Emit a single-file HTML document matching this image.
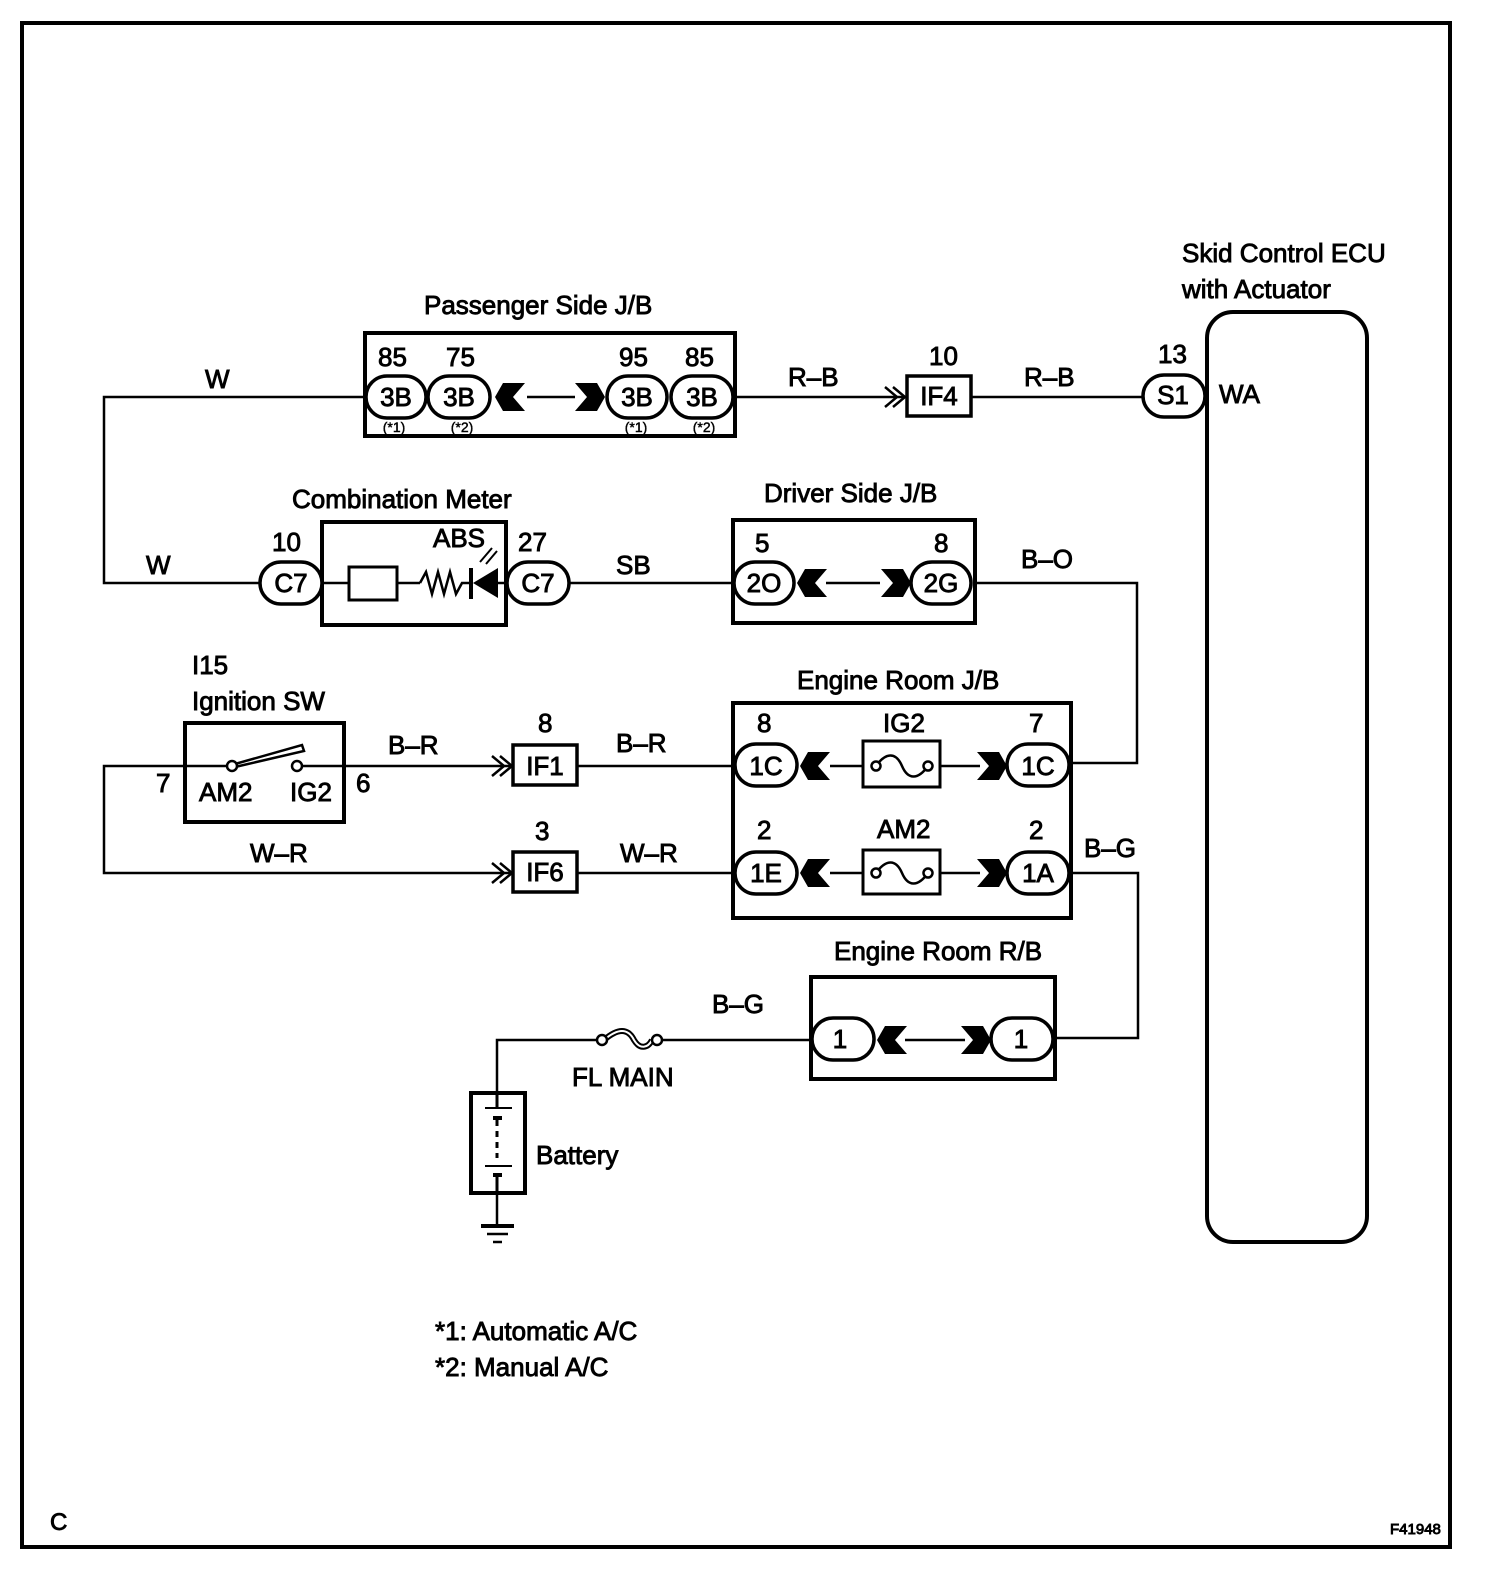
<!DOCTYPE html>
<html><head><meta charset="utf-8"><style>
html,body{margin:0;padding:0;background:#fff}
svg{display:block}
text{font-family:"Liberation Sans",Arial,sans-serif;font-size:26px;fill:#000;stroke:#000;stroke-width:0.9}
.s{font-size:14px;stroke-width:0.4}
</style></head><body>
<svg width="1504" height="1574" viewBox="0 0 1504 1574" xmlns="http://www.w3.org/2000/svg">
<defs>
<path id="fl" d="M0,-14 L22,-14 L10,0 L22,14 L0,14 L-8,0 Z"/>
<path id="fr" d="M0,-14 L-22,-14 L-10,0 L-22,14 L0,14 L8,0 Z"/>
<path id="mm" d="M-12,-10 L0,0 L-12,10 M-20,-10 L-8,0 L-20,10" fill="none" stroke="#000" stroke-width="2.5"/>
</defs>
<rect x="22" y="23" width="1428" height="1524" fill="none" stroke="#000" stroke-width="4"/>

<g fill="none" stroke="#000" stroke-width="2.5">
<polyline points="365,397 104,397 104,583 260,583"/>
<line x1="735" y1="397" x2="905" y2="397"/>
<line x1="971" y1="397" x2="1143" y2="397"/>
<line x1="527" y1="397" x2="575" y2="397"/>
<line x1="568" y1="583" x2="733" y2="583"/>
<line x1="322" y1="583" x2="349" y2="583"/>
<line x1="397" y1="583" x2="420" y2="583"/>
<line x1="826" y1="583" x2="880" y2="583"/>
<polyline points="975,583 1137,583 1137,763 1071,763"/>
<polyline points="185,766 104,766 104,873 510,873"/>
<line x1="344" y1="766" x2="510" y2="766"/>
<line x1="577" y1="766" x2="733" y2="766"/>
<line x1="577" y1="873" x2="733" y2="873"/>
<line x1="830" y1="766" x2="863" y2="766"/>
<line x1="940" y1="766" x2="980" y2="766"/>
<line x1="830" y1="873" x2="863" y2="873"/>
<line x1="940" y1="873" x2="980" y2="873"/>
<polyline points="1071,873 1138,873 1138,1038 1053,1038"/>
<line x1="905" y1="1040" x2="965" y2="1040"/>
<polyline points="811,1040 657,1040"/>
<polyline points="597,1040 497,1040 497,1093"/>
<polyline points="497,1193 497,1225"/>
<line x1="481" y1="1226" x2="514" y2="1226" stroke-width="4"/>
<line x1="487" y1="1234" x2="508" y2="1234"/>
<line x1="493" y1="1242" x2="502" y2="1242"/>
<line x1="185" y1="766" x2="226" y2="766"/>
<line x1="302" y1="766" x2="344" y2="766"/>
</g>

<g fill="none" stroke="#000" stroke-width="4">
<rect x="365" y="333" width="370" height="103"/>
<rect x="322" y="522" width="184" height="103"/>
<rect x="733" y="520" width="242" height="103"/>
<rect x="733" y="703" width="338" height="215"/>
<rect x="185" y="723" width="159" height="99"/>
<rect x="811" y="977" width="244" height="102"/>
<rect x="471" y="1093" width="54" height="100"/>
<rect x="1207" y="312" width="160" height="930" rx="26"/>
<rect x="907" y="376" width="64" height="40" stroke-width="3.5"/>
<rect x="513" y="745" width="64" height="40" stroke-width="3.5"/>
<rect x="513" y="852" width="64" height="40" stroke-width="3.5"/>
<rect x="349" y="567" width="48" height="33" stroke-width="3"/>
<rect x="863" y="741" width="77" height="46" stroke-width="3"/>
<rect x="863" y="850" width="77" height="44" stroke-width="3"/>
</g>

<g fill="#fff" stroke="#000" stroke-width="3.5">
<rect x="366" y="376" width="60" height="42" rx="21"/>
<rect x="428" y="376" width="62" height="42" rx="21"/>
<rect x="607" y="376" width="60" height="42" rx="21"/>
<rect x="671" y="376" width="62" height="42" rx="21"/>
<rect x="1143" y="375" width="62" height="42" rx="21"/>
<rect x="260" y="562" width="62" height="42" rx="21"/>
<rect x="507" y="562" width="62" height="42" rx="21"/>
<rect x="734" y="562" width="60" height="42" rx="21"/>
<rect x="911" y="562" width="60" height="42" rx="21"/>
<rect x="735" y="744" width="62" height="42" rx="21"/>
<rect x="1007" y="744" width="62" height="42" rx="21"/>
<rect x="735" y="852" width="62" height="42" rx="21"/>
<rect x="1007" y="852" width="62" height="42" rx="21"/>
<rect x="812" y="1018" width="62" height="42" rx="21"/>
<rect x="991" y="1018" width="62" height="42" rx="21"/>
</g>
<line x1="1207" y1="370" x2="1207" y2="420" stroke="#000" stroke-width="4"/>

<g fill="#000">
<use href="#fl" x="503" y="397"/><use href="#fr" x="597" y="397"/>
<use href="#fl" x="805" y="583"/><use href="#fr" x="903" y="583"/>
<use href="#fl" x="808" y="766"/><use href="#fr" x="999" y="766"/>
<use href="#fl" x="808" y="873"/><use href="#fr" x="999" y="873"/>
<use href="#fl" x="885" y="1040"/><use href="#fr" x="983" y="1040"/>
</g>
<use href="#mm" x="905" y="397"/>
<use href="#mm" x="512" y="766"/>
<use href="#mm" x="512" y="873"/>

<polyline points="420,583 426,572 432,594 438,572 444,594 450,572 456,594 462,583 470,583" fill="none" stroke="#000" stroke-width="2.5"/>
<line x1="471" y1="568" x2="471" y2="599" stroke="#000" stroke-width="4"/>
<polygon points="473,583 498,568 498,598" fill="#000"/>
<line x1="498" y1="583" x2="507" y2="583" stroke="#000" stroke-width="2.5"/>
<line x1="480" y1="562" x2="492" y2="548" stroke="#000" stroke-width="2"/>
<line x1="486" y1="564" x2="497" y2="551" stroke="#000" stroke-width="2"/>

<g fill="#fff" stroke="#000" stroke-width="2.5">
<path d="M876,766 C886,752 896,752 902,766 C908,780 918,780 928,766" fill="none"/>
<circle cx="876" cy="766" r="4.5"/><circle cx="928" cy="766" r="4.5"/>
<path d="M876,873 C886,859 896,859 902,873 C908,887 918,887 928,873" fill="none"/>
<circle cx="876" cy="873" r="4.5"/><circle cx="928" cy="873" r="4.5"/>
<path d="M604,1040 C618,1028 628,1028 634,1040 C640,1050 648,1048 652,1040" fill="none" stroke-width="6"/>
<path d="M604,1040 C618,1028 628,1028 634,1040 C640,1050 648,1048 652,1040" fill="none" stroke="#fff" stroke-width="2"/>
<circle cx="602" cy="1040" r="5"/><circle cx="657" cy="1040" r="5"/>
<polygon points="235,764 302,745 304,751 235,767" fill="#fff"/>
<circle cx="232" cy="766" r="5"/><circle cx="297" cy="766" r="5"/>
</g>

<g stroke="#000" fill="none">
<line x1="497" y1="1093" x2="497" y2="1108" stroke-width="3"/>
<line x1="485" y1="1108" x2="512" y2="1108" stroke-width="2"/>
<line x1="493" y1="1118" x2="502" y2="1118" stroke-width="4"/>
<line x1="497" y1="1120" x2="497" y2="1158" stroke-width="3" stroke-dasharray="6,5"/>
<line x1="485" y1="1166" x2="512" y2="1166" stroke-width="2"/>
<line x1="493" y1="1175" x2="502" y2="1175" stroke-width="4"/>
<line x1="497" y1="1175" x2="497" y2="1193" stroke-width="3"/>
</g>

<text x="1182" y="262">Skid Control ECU</text>
<text x="1182" y="298">with Actuator</text>
<text x="424" y="314">Passenger Side J/B</text>
<text x="378" y="366">85</text><text x="446" y="366">75</text>
<text x="619" y="366">95</text><text x="685" y="366">85</text>
<g text-anchor="middle">
<text x="396" y="406">3B</text><text x="459" y="406">3B</text>
<text x="637" y="406">3B</text><text x="702" y="406">3B</text>
<text x="1173" y="404">S1</text>
<text x="291" y="592">C7</text><text x="538" y="592">C7</text>
<text x="764" y="592">2O</text><text x="941" y="592">2G</text>
<text x="766" y="775">1C</text><text x="1038" y="775">1C</text>
<text x="766" y="882">1E</text><text x="1038" y="882">1A</text>
<text x="840" y="1048">1</text><text x="1021" y="1048">1</text>
<text x="939" y="405">IF4</text><text x="545" y="775">IF1</text><text x="545" y="881">IF6</text>
<text class="s" x="394" y="432">(*1)</text><text class="s" x="462" y="432">(*2)</text>
<text class="s" x="636" y="432">(*1)</text><text class="s" x="704" y="432">(*2)</text>
</g>
<text x="205" y="388">W</text>
<text x="146" y="574">W</text>
<text x="788" y="386">R–B</text>
<text x="929" y="365">10</text>
<text x="1024" y="386">R–B</text>
<text x="1158" y="363">13</text>
<text x="1219" y="403">WA</text>
<text x="292" y="508">Combination Meter</text>
<text x="272" y="551">10</text>
<text x="433" y="547">ABS</text>
<text x="518" y="551">27</text>
<text x="616" y="574">SB</text>
<text x="764" y="502">Driver Side J/B</text>
<text x="755" y="552">5</text><text x="934" y="552">8</text>
<text x="1021" y="568">B–O</text>
<text x="192" y="674">I15</text>
<text x="192" y="710">Ignition SW</text>
<text x="156" y="792">7</text>
<text x="199" y="801">AM2</text>
<text x="290" y="801">IG2</text>
<text x="356" y="792">6</text>
<text x="388" y="754">B–R</text>
<text x="538" y="732">8</text>
<text x="616" y="752">B–R</text>
<text x="797" y="689">Engine Room J/B</text>
<text x="757" y="732">8</text>
<text x="883" y="732">IG2</text>
<text x="1029" y="732">7</text>
<text x="757" y="839">2</text>
<text x="877" y="838">AM2</text>
<text x="1029" y="839">2</text>
<text x="1084" y="857">B–G</text>
<text x="250" y="862">W–R</text>
<text x="535" y="840">3</text>
<text x="620" y="862">W–R</text>
<text x="834" y="960">Engine Room R/B</text>
<text x="712" y="1013">B–G</text>
<text x="572" y="1086">FL MAIN</text>
<text x="536" y="1164">Battery</text>
<text x="435" y="1340">*1: Automatic A/C</text>
<text x="435" y="1376">*2: Manual A/C</text>
<text x="50" y="1530" style="font-size:24px">C</text>
<text x="1390" y="1534" style="font-size:15px">F41948</text>
</svg>
</body></html>
